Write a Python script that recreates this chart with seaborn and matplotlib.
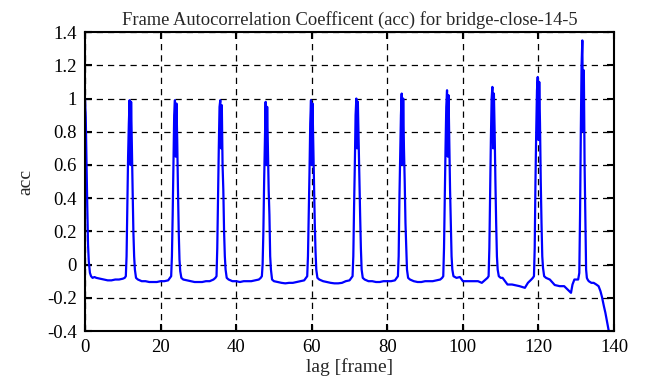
import numpy as np
import pandas as pd
import matplotlib
matplotlib.use("Agg")
import matplotlib.pyplot as plt
import seaborn as sns

# lag values (frames) and autocorrelation
lag = [
    0, 0.2, 0.4, 0.6, 0.8, 1.0, 1.3, 1.6, 2, 2.5, 3, 4, 5, 6, 7, 8, 9, 10, 10.5,
    10.8, 11.0, 11.2, 11.4, 11.6, 11.8, 12.0, 12.2, 12.4, 12.6, 12.8, 13.0, 13.2, 13.5,
    14, 15, 16, 17, 18, 19, 20, 21, 22, 22.5,
    22.8, 23.0, 23.2, 23.4, 23.6, 23.8, 24.0, 24.2, 24.4, 24.6, 24.8, 25.0, 25.2, 25.5,
    26, 27, 28, 29, 30, 31, 32, 33, 34, 34.5,
    34.8, 35.0, 35.2, 35.4, 35.6, 35.8, 36.0, 36.2, 36.4, 36.6, 36.8, 37.0, 37.2, 37.5,
    38, 39, 40, 41, 42, 43, 44, 45, 46, 46.5,
    46.8, 47.0, 47.2, 47.4, 47.6, 47.8, 48.0, 48.2, 48.4, 48.6, 48.8, 49.0, 49.2, 49.5,
    50, 51, 52, 53, 54, 55, 56, 57, 58, 58.5,
    58.8, 59.0, 59.2, 59.4, 59.6, 59.8, 60.0, 60.2, 60.4, 60.6, 60.8, 61.0, 61.2, 61.5,
    62, 63, 64, 65, 66, 67, 68, 69, 70, 70.5,
    70.8, 71.0, 71.2, 71.4, 71.6, 71.8, 72.0, 72.2, 72.4, 72.6, 72.8, 73.0, 73.2, 73.5,
    74, 75, 76, 77, 78, 79, 80, 81, 82, 82.5,
    82.8, 83.0, 83.2, 83.4, 83.6, 83.8, 84.0, 84.2, 84.4, 84.6, 84.8, 85.0, 85.2, 85.5,
    86, 87, 88, 89, 90, 91, 92, 93, 94, 94.5,
    94.8, 95.0, 95.2, 95.4, 95.6, 95.8, 96.0, 96.2, 96.4, 96.6, 96.8, 97.0, 97.2, 97.5,
    98.3, 99.2, 100, 101, 102, 103, 104, 105, 106, 106.5,
    106.8, 107.0, 107.2, 107.4, 107.6, 107.8, 108.0, 108.2, 108.4, 108.6, 108.8, 109.0, 109.2, 109.5,
    110, 110.5, 111.8, 113, 115, 116.4, 117.2, 118.1, 118.5,
    118.8, 119.0, 119.2, 119.4, 119.6, 119.8, 120.0, 120.2, 120.4, 120.6, 120.8, 121.0, 121.2, 121.5,
    122, 123, 124.3, 125.6, 126.8, 127.7, 128.6, 129.0, 129.5, 130.1, 130.5,
    130.8, 131.0, 131.2, 131.4, 131.6, 131.8, 132.0, 132.2, 132.4, 132.6, 132.8, 133.0, 133.3,
    134, 134.6, 135.3, 135.9, 136.4, 136.8, 137.3, 137.7, 138.2, 138.6,
]

acc = [
    1.0, 0.88, 0.6, 0.35, 0.12, 0.02, -0.05, -0.07, -0.08, -0.075, -0.08, -0.085, -0.09, -0.095, -0.095, -0.09, -0.09, -0.085, -0.08,
    -0.07, 0.05, 0.35, 0.65, 0.85, 0.99, 0.6, 0.98, 0.7, 0.45, 0.2, 0.05, -0.03, -0.08,
    -0.09, -0.1, -0.1, -0.105, -0.105, -0.105, -0.1, -0.1, -0.095, -0.08,
    -0.07, 0.05, 0.3, 0.6, 0.9, 0.99, 0.65, 0.97, 0.75, 0.45, 0.2, 0.03, -0.04, -0.08,
    -0.09, -0.095, -0.1, -0.105, -0.105, -0.105, -0.1, -0.1, -0.09, -0.08,
    -0.07, 0.1, 0.4, 0.7, 0.95, 0.99, 0.7, 0.96, 0.6, 0.45, 0.2, 0.05, -0.03, -0.08,
    -0.09, -0.1, -0.1, -0.105, -0.1, -0.1, -0.1, -0.095, -0.09, -0.08,
    -0.07, 0.0, 0.2, 0.5, 0.75, 0.98, 0.6, 0.95, 0.7, 0.45, 0.3, 0.05, -0.03, -0.09,
    -0.1, -0.105, -0.11, -0.113, -0.11, -0.11, -0.105, -0.1, -0.095, -0.08,
    -0.07, 0.05, 0.3, 0.55, 0.85, 0.99, 0.6, 0.97, 0.72, 0.5, 0.25, 0.08, -0.03, -0.08,
    -0.09, -0.1, -0.105, -0.11, -0.113, -0.113, -0.11, -0.1, -0.095, -0.08,
    -0.07, 0.05, 0.35, 0.6, 0.9, 1.0, 0.7, 0.98, 0.75, 0.5, 0.3, 0.1, -0.03, -0.08,
    -0.09, -0.1, -0.1, -0.105, -0.105, -0.1, -0.1, -0.1, -0.095, -0.08,
    -0.07, 0.05, 0.4, 0.65, 0.9, 1.03, 0.6, 1.0, 0.7, 0.5, 0.25, 0.1, -0.03, -0.08,
    -0.09, -0.1, -0.105, -0.105, -0.1, -0.1, -0.1, -0.095, -0.09, -0.08,
    -0.07, 0.1, 0.4, 0.7, 0.95, 1.05, 0.65, 1.02, 0.75, 0.45, 0.25, 0.05, -0.03, -0.07,
    -0.08, -0.075, -0.1, -0.1, -0.1, -0.1, -0.1, -0.11, -0.09, -0.08,
    -0.07, 0.1, 0.45, 0.75, 1.0, 1.07, 0.7, 1.03, 0.8, 0.5, 0.25, 0.05, -0.03, -0.07,
    -0.08, -0.08, -0.12, -0.12, -0.13, -0.14, -0.11, -0.09, -0.08,
    -0.07, 0.1, 0.5, 0.8, 1.05, 1.13, 0.75, 1.1, 0.85, 0.5, 0.25, 0.05, -0.02, -0.07,
    -0.08, -0.09, -0.123, -0.13, -0.13, -0.15, -0.17, -0.12, -0.09, -0.09, -0.09,
    -0.05, 0.3, 0.8, 1.2, 1.35, 0.8, 1.17, 0.6, 0.27, -0.03, -0.08, -0.09, -0.1,
    -0.11, -0.11, -0.12, -0.13, -0.16, -0.195, -0.25, -0.29, -0.35, -0.4,
]

df = pd.DataFrame({"lag": lag, "acc": acc})

sns.set_style("ticks")
plt.rcParams["font.family"] = ["Liberation Serif", "DejaVu Serif"]

fig = plt.figure(figsize=(6.61, 3.87), dpi=100)
ax = fig.add_axes([0.1286, 0.1447, 0.929 - 0.1286, 0.917 - 0.1447])

sns.lineplot(data=df, x="lag", y="acc", color="#0000ff", linewidth=1.6, ax=ax, sort=False)

ax.set_xlim(0, 140)
ax.set_ylim(-0.4, 1.4)
ax.set_xticks(np.arange(0, 141, 20))
ax.set_yticks(np.arange(-0.4, 1.41, 0.2))
ax.set_yticklabels([f"{v:g}" for v in np.round(np.arange(-0.4, 1.41, 0.2), 1)])

ax.grid(True, color="black", linestyle=(0, (5, 4)), linewidth=0.9)
for s in ax.spines.values():
    s.set_visible(True)
    s.set_linewidth(1.5)
    s.set_color("black")
ax.tick_params(direction="in", length=5, width=1.5, top=True, right=True,
               labelsize=13.5, pad=6, colors="black")

ax.set_title("Frame Autocorrelation Coefficent (acc) for bridge-close-14-5", fontsize=13.3, pad=5)
ax.set_xlabel("lag [frame]", fontsize=14, labelpad=1)
ax.set_ylabel("acc", fontsize=14, labelpad=9)

fig.savefig("out.png", dpi=100)
